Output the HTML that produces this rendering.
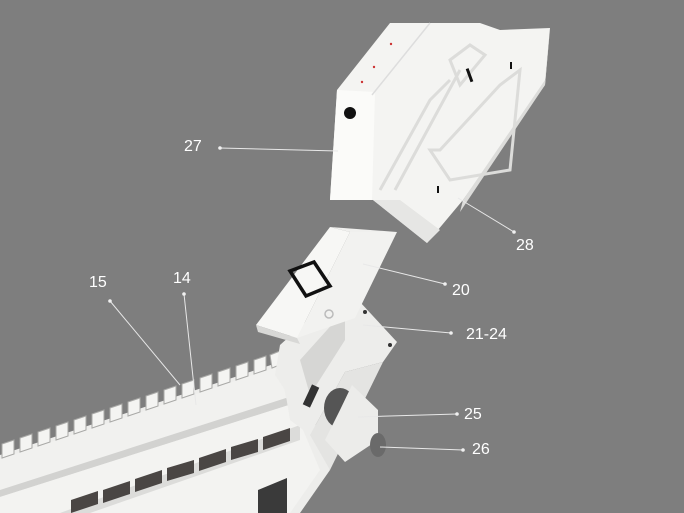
<!DOCTYPE html>
<html><head><style>
html,body{margin:0;padding:0;background:#7e7e7e;}
svg{display:block}
text{font-family:"Liberation Sans",sans-serif;font-size:16px;fill:#fff}
</style></head><body>
<svg width="684" height="513" viewBox="0 0 684 513" xmlns="http://www.w3.org/2000/svg">
<rect width="684" height="513" fill="#7e7e7e"/>
<!-- rail body -->
<polygon points="0,455 280,362 300,378 330,470 300,513 0,513" fill="#ededeb"/>
<polygon points="0,459 280,366 286,398 0,490" fill="#f1f1ef"/>
<polygon points="0,490 286,398 292,404 0,497" fill="#d2d2d0"/>
<polygon points="0,497 292,404 320,470 290,513 0,513" fill="#f3f3f1"/>
<polygon points="60,513 300,425 300,440 90,513" fill="#dcdcda"/>
<!-- vents -->
<g fill="#4a4644">
<polygon points="263,437 290,428 290,441 263,450"/>
<polygon points="231,447 258,439 258,452 231,460"/>
<polygon points="199,458 226,449 226,462 199,471"/>
<polygon points="167,468 194,460 194,473 167,481"/>
<polygon points="135,479 162,470 162,483 135,492"/>
<polygon points="103,490 130,481 130,494 103,503"/>
<polygon points="71,500 98,491 98,504 71,513"/>
</g>
<polygon points="258,490 287,478 287,513 258,513" fill="#3a3a3a"/>
<!-- teeth -->
<g fill="#f4f4f2" stroke="#a9a9a7" stroke-width="1">
<polygon points="2,444 14,440 14,454 2,458"/>
<polygon points="20,438 32,434 32,448 20,452"/>
<polygon points="38,432 50,428 50,442 38,446"/>
<polygon points="56,426 68,422 68,436 56,440"/>
<polygon points="74,420 86,416 86,430 74,434"/>
<polygon points="92,414 104,410 104,424 92,428"/>
<polygon points="110,408 122,404 122,418 110,422"/>
<polygon points="128,402 140,398 140,412 128,416"/>
<polygon points="146,396 158,392 158,406 146,410"/>
<polygon points="164,390 176,386 176,400 164,404"/>
<polygon points="182,384 194,380 194,394 182,398"/>
<polygon points="200,378 212,374 212,388 200,392"/>
<polygon points="218,372 230,368 230,382 218,386"/>
<polygon points="236,366 248,362 248,376 236,380"/>
<polygon points="254,360 266,356 266,370 254,374"/>
<polygon points="270,355 280,351 282,364 272,368"/>
</g>
<!-- bracket arm -->
<polygon points="280,345 330,300 360,302 397,342 383,362 345,372 310,435 290,420 285,390 275,375" fill="#ededeb"/>
<polygon points="300,360 345,310 345,340 310,395" fill="#d6d6d4"/>
<polygon points="310,435 345,372 383,362 330,470" fill="#e4e4e2"/>
<rect x="307" y="385" width="8" height="22" fill="#333" transform="rotate(25 311 396)"/>
<circle cx="365" cy="312" r="2" fill="#333"/><circle cx="390" cy="345" r="2" fill="#333"/>
<!-- mount 25 -->
<ellipse cx="340" cy="408" rx="16" ry="20" fill="#555"/>
<polygon points="352,385 378,410 378,440 345,462 325,440 340,410" fill="#ececea"/>
<ellipse cx="378" cy="445" rx="8" ry="12" fill="#6a6a6a"/>
<!-- module 20 -->
<polygon points="256,325 330,227 350,232 297,338" fill="#f7f7f5"/>
<polygon points="330,227 397,232 350,232" fill="#f0f0ee"/>
<polygon points="297,338 350,232 397,232 355,318" fill="#f2f2f0"/>
<polygon points="256,325 297,338 300,344 258,332" fill="#d8d8d6"/>
<polygon points="290,271 314,262 330,286 306,296" fill="none" stroke="#111" stroke-width="3.5"/>
<circle cx="329" cy="314" r="4" fill="none" stroke="#bbb" stroke-width="1.5"/>
<!-- module 27/28 -->
<polygon points="390,23 480,23 500,30 550,28 545,85 463,200 427,243 373,200 330,200 337,90" fill="#f4f4f2"/>
<polygon points="330,200 337,90 375,92 372,200" fill="#fbfbf9"/>
<polygon points="373,200 427,243 440,230 400,200" fill="#e6e6e4"/>
<polygon points="545,85 550,28 545,80 463,200 460,212" fill="#dcdcda"/>
<polyline points="372,95 430,23" stroke="#ddd" fill="none" stroke-width="1.5"/>
<path d="M380,190 L430,100 L450,80 M395,190 L460,70 M440,150 L500,85 L520,70 L510,170 L450,180 L430,150Z M450,60 L470,45 L485,55 L460,85Z" stroke="#dcdcda" stroke-width="3" fill="none"/>
<circle cx="350" cy="113" r="6" fill="#111"/>
<rect x="468" y="68" width="3" height="14" fill="#111" transform="rotate(-20 470 75)"/>
<rect x="510" y="62" width="2" height="7" fill="#111"/>
<rect x="437" y="186" width="2" height="7" fill="#111"/>
<circle cx="391" cy="44" r="1.2" fill="#c33"/><circle cx="374" cy="67" r="1.2" fill="#c33"/><circle cx="362" cy="82" r="1.2" fill="#c33"/>
<!-- leader lines -->
<g stroke="#e8e8e8" stroke-width="1" fill="#f0f0f0">
<line x1="110" y1="301" x2="180" y2="385"/><circle cx="110" cy="301" r="1.8" stroke="none"/>
<line x1="184" y1="294" x2="196" y2="405"/><circle cx="184" cy="294" r="1.8" stroke="none"/>
<line x1="220" y1="148" x2="338" y2="151"/><circle cx="220" cy="148" r="1.8" stroke="none"/>
<line x1="458" y1="198" x2="514" y2="232"/><circle cx="514" cy="232" r="1.8" stroke="none"/>
<line x1="363" y1="264" x2="445" y2="284"/><circle cx="445" cy="284" r="1.8" stroke="none"/>
<line x1="363" y1="325" x2="451" y2="333"/><circle cx="451" cy="333" r="1.8" stroke="none"/>
<line x1="358" y1="417" x2="457" y2="414"/><circle cx="457" cy="414" r="1.8" stroke="none"/>
<line x1="380" y1="447" x2="463" y2="450"/><circle cx="463" cy="450" r="1.8" stroke="none"/>
</g>
<text x="89" y="287">15</text>
<text x="173" y="283">14</text>
<text x="184" y="151">27</text>
<text x="516" y="250">28</text>
<text x="452" y="295">20</text>
<text x="466" y="339">21-24</text>
<text x="464" y="419">25</text>
<text x="472" y="454">26</text>
</svg>
</body></html>
